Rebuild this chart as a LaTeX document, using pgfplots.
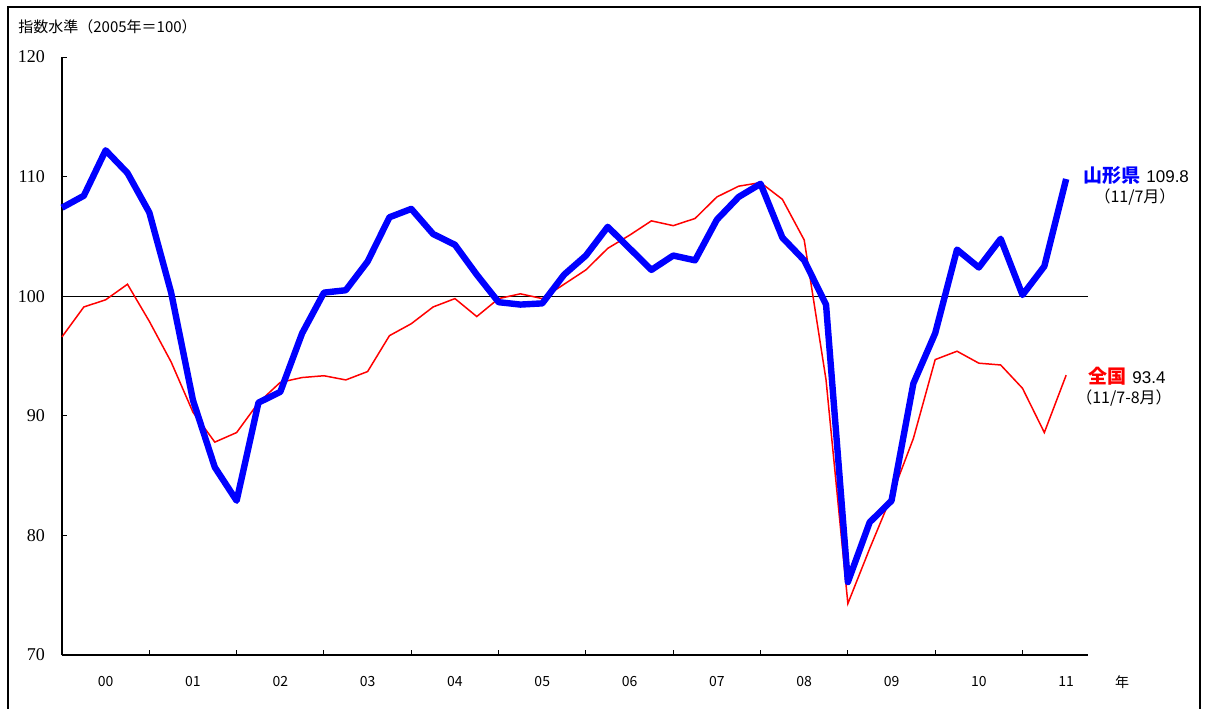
\documentclass[border=0pt]{standalone}
\usepackage{fontspec}
\setmainfont{Liberation Serif}
\newfontfamily\jp{Noto Sans CJK JP}
\newfontfamily\lsans{Liberation Sans}
\usepackage{pgfplots}
\pgfplotsset{compat=1.18}
\definecolor{pblue}{RGB}{0,0,255}
\definecolor{pred}{RGB}{255,0,0}
\pgfplotstableread{
i v
0 107.4
1 108.4
2 112.2
3 110.3
4 107.0
5 100.3
6 91.3
7 85.7
8 82.9
9 91.1
10 92.0
11 96.9
12 100.3
13 100.5
14 102.9
15 106.6
16 107.3
17 105.2
18 104.3
19 101.8
20 99.5
21 99.3
22 99.4
23 101.8
24 103.4
25 105.8
26 104.0
27 102.2
28 103.4
29 103.0
30 106.4
31 108.3
32 109.4
33 104.9
34 103.0
35 99.3
36 76.1
37 81.1
38 82.9
39 92.7
40 96.9
41 103.9
42 102.4
43 104.8
44 100.1
45 102.5
46 109.8
}\yamagata
\pgfplotstableread{
i v
0 96.6
1 99.1
2 99.7
3 101.0
4 97.9
5 94.5
6 90.3
7 87.8
8 88.6
9 91.1
10 92.8
11 93.2
12 93.35
13 93.0
14 93.7
15 96.7
16 97.7
17 99.1
18 99.8
19 98.3
20 99.8
21 100.2
22 99.8
23 101.0
24 102.2
25 104.0
26 105.1
27 106.3
28 105.9
29 106.5
30 108.3
31 109.2
32 109.5
33 108.1
34 104.7
35 93.0
36 74.3
37 78.9
38 83.3
39 88.1
40 94.7
41 95.4
42 94.4
43 94.25
44 92.3
45 88.6
46 93.4
}\zenkoku
\begin{document}
\begin{tikzpicture}[x=0.5pt,y=0.5pt]
\useasboundingbox (0,0) rectangle (1205,708);
\draw[line width=0.75pt] (8,-5) -- (8,701) -- (1200,701) -- (1200,-5);
\begin{axis}[
  at={(31pt,26.5pt)}, anchor=south west,
  scale only axis, width=513pt, height=299pt,
  xmin=0, xmax=47, ymin=70, ymax=120,
  axis x line*=bottom, axis y line*=left,
  axis line style={line width=0.9pt,-},
  tick align=inside, major tick length=2.5pt,
  tick style={line width=0.5pt, black},
  ytick={70,80,...,120},
  xtick={0,4,...,44},
  xticklabels={00,01,02,03,04,05,06,07,08,09,10,11},
  xticklabel style={xshift=21.83pt, yshift=-7pt, font=\jp\fontsize{7}{8}\selectfont},
  yticklabel style={xshift=-5pt, font=\fontsize{9}{10}\selectfont},
  /pgf/number format/assume math mode=true,
  clip=false,
]
\addplot[black, line width=0.7pt] coordinates {(0,100) (47,100)};
\addplot[pred, line width=0.75pt] table[x=i,y=v] {\zenkoku};
\addplot[pblue, line width=3.2pt, line join=round] table[x=i,y=v] {\yamagata};
\end{axis}
\node[anchor=west, inner sep=0pt, font=\jp\fontsize{7.5}{8}\selectfont] at (18,681) {指数水準（2005年＝100）};
\node[anchor=center, inner sep=0pt, font=\jp\fontsize{7}{8}\selectfont] at (1122,26) {年};
\node[anchor=west, inner sep=0pt] at (1083,533) {{\jp\bfseries\fontsize{9.5}{10}\selectfont\color{pblue}山形県}\hspace{3pt}{\lsans\fontsize{8.5}{10}\selectfont 109.8}};
\node[anchor=center, inner sep=0pt, font=\jp\fontsize{8}{9}\selectfont] at (1135,511) {（11/7月）};
\node[anchor=west, inner sep=0pt] at (1088,332) {{\jp\bfseries\fontsize{9.5}{10}\selectfont\color{pred}全国}\hspace{3pt}{\lsans\fontsize{8.5}{10}\selectfont 93.4}};
\node[anchor=center, inner sep=0pt, font=\jp\fontsize{8}{9}\selectfont] at (1124,310) {（11/7-8月）};
\end{tikzpicture}
\end{document}
